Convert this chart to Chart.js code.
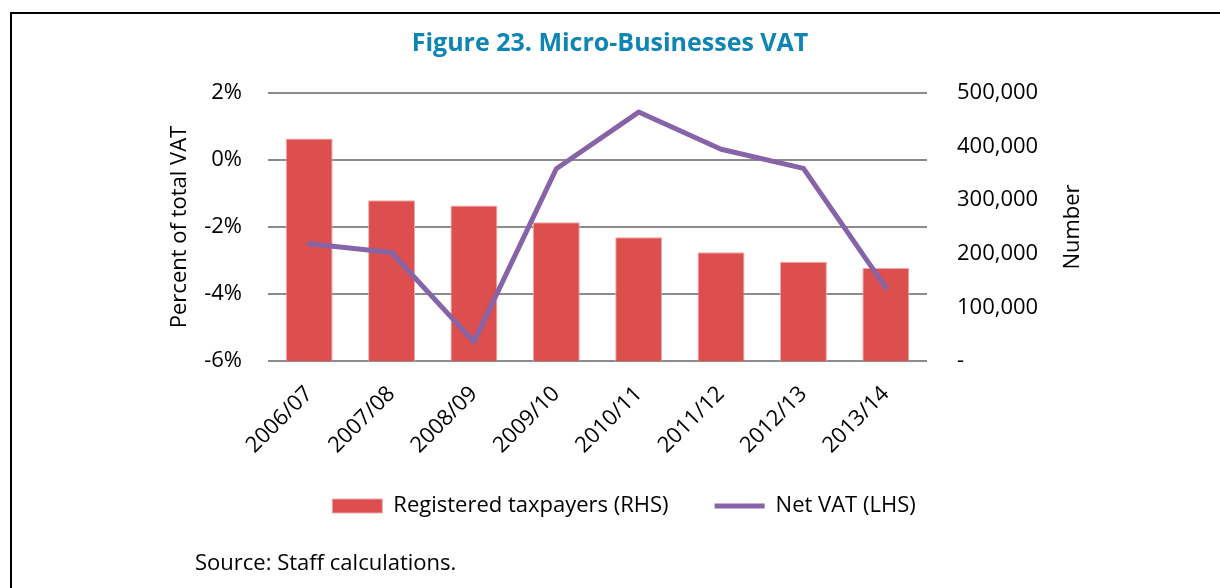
<!DOCTYPE html>
<html>
<head>
<meta charset="utf-8">
<script src="https://cdn.jsdelivr.net/npm/chart.js"></script>
<style>
  html, body { margin: 0; padding: 0; background: #fff; }
  #wrap { position: relative; width: 1220px; height: 588px; overflow: hidden; }
  #frame { position: absolute; left: 10px; top: 12px; right: -10px; bottom: -10px;
           border-top: 2px solid #000; border-left: 2px solid #000; }
  #source { position: absolute; left: 195px; top: 546px; font: 22px 'Open Sans', sans-serif; color: #000; }
  canvas { position: absolute; left: 0; top: 0; }
</style>
</head>
<body>
<div id="wrap">
  <div id="frame"></div>
  <canvas id="vatChart" width="1220" height="588"></canvas>
  <div id="source">Source: Staff calculations.</div>
</div>
<script>
// data
const years = ['2006/07', '2007/08', '2008/09', '2009/10', '2010/11', '2011/12', '2012/13', '2013/14'];
const taxpayers = [415000, 300000, 290000, 259000, 231000, 203000, 185000, 173500];
const netVat = [-2.50, -2.76, -5.43, -0.26, 1.43, 0.32, -0.25, -3.81];
const leftTicks = [-6, -4, -2, 0, 2];
const rightTicks = [0, 100000, 200000, 300000, 400000, 500000];

Chart.defaults.font.family = "'Open Sans', sans-serif";
Chart.defaults.color = '#000';

// right axis title reads bottom-to-top, chart.js would rotate it the other way
const rightTitle = {
    id: 'rightTitle',
    afterDraw(chart) {
        const ctx = chart.ctx;
        const area = chart.chartArea;
        ctx.save();
        ctx.translate(1073, (area.top + area.bottom) / 2);
        ctx.rotate(-Math.PI / 2);
        ctx.font = "22px 'Open Sans', sans-serif";
        ctx.fillStyle = '#000';
        ctx.textAlign = 'center';
        ctx.textBaseline = 'middle';
        ctx.fillText('Number', 0, 0);
        ctx.restore();
    }
};

// nudge legend right and up, like the original
const legendShift = {
    id: 'legendShift',
    afterLayout(chart) {
        chart.legend.left += 14;
        chart.legend.right += 14;
        chart.legend.top -= 22;
    }
};

new Chart(document.getElementById('vatChart'), {
    type: 'bar',
    data: {
        labels: years,
        datasets: [{
            type: 'bar',
            label: 'Registered taxpayers (RHS)',
            data: taxpayers,
            yAxisID: 'yRight',
            backgroundColor: '#dd4f4e',
            borderColor: '#f0a9a8',
            borderWidth: 1,
            categoryPercentage: 1,
            barPercentage: 0.57,
            order: 2
        }, {
            type: 'line',
            label: 'Net VAT (LHS)',
            data: netVat,
            yAxisID: 'yLeft',
            borderColor: '#8763a8',
            backgroundColor: '#8763a8',
            borderWidth: 5,
            borderCapStyle: 'round',
            borderJoinStyle: 'round',
            pointRadius: 0,
            tension: 0,
            order: 1
        }]
    },
    options: {
        responsive: false,
        animation: false,
        layout: { padding: { left: 0, right: 0, top: 0, bottom: 39 } },
        plugins: {
            title: {
                display: true,
                text: 'Figure 23. Micro-Businesses VAT',
                color: '#0e85b4',
                font: { size: 25, weight: 'bold' },
                padding: { top: 29, bottom: 34 }
            },
            legend: {
                position: 'bottom',
                labels: {
                    usePointStyle: true,
                    pointStyleWidth: 50,
                    boxHeight: 14,
                    padding: 46,
                    font: { size: 22 },
                    color: '#000',
                    sort: (a, b) => a.datasetIndex - b.datasetIndex,
                    generateLabels(chart) {
                        const items = Chart.defaults.plugins.legend.labels.generateLabels(chart);
                        items.forEach(it => {
                            it.pointStyle = it.datasetIndex === 0 ? 'rect' : 'line';
                        });
                        return items;
                    }
                }
            },
            tooltip: { enabled: false }
        },
        scales: {
            x: {
                grid: { display: false },
                border: { display: false },
                ticks: { maxRotation: 45, minRotation: 45, padding: 12, font: { size: 22 } },
                afterFit(scale) { scale.height = 110; }
            },
            yLeft: {
                position: 'left',
                min: -6,
                max: 2,
                afterBuildTicks(scale) { scale.ticks = leftTicks.map(v => ({ value: v })); },
                ticks: { padding: 26, font: { size: 22 }, callback: v => v + '%' },
                grid: { color: '#8c8c8c', lineWidth: 2, drawTicks: false },
                border: { display: false },
                title: {
                    display: true,
                    text: 'Percent of total VAT',
                    font: { size: 22 },
                    padding: { top: 167, bottom: 0 }
                },
                afterFit(scale) { scale.width = 268; }
            },
            yRight: {
                position: 'right',
                min: 0,
                max: 500000,
                afterBuildTicks(scale) { scale.ticks = rightTicks.map(v => ({ value: v })); },
                ticks: {
                    padding: 30,
                    font: { size: 22 },
                    callback: v => v === 0 ? '-' : v.toLocaleString('en-US')
                },
                grid: { display: false, drawTicks: false },
                border: { display: false },
                afterFit(scale) { scale.width = 293; }
            }
        }
    },
    plugins: [rightTitle, legendShift]
});
</script>
</body>
</html>
